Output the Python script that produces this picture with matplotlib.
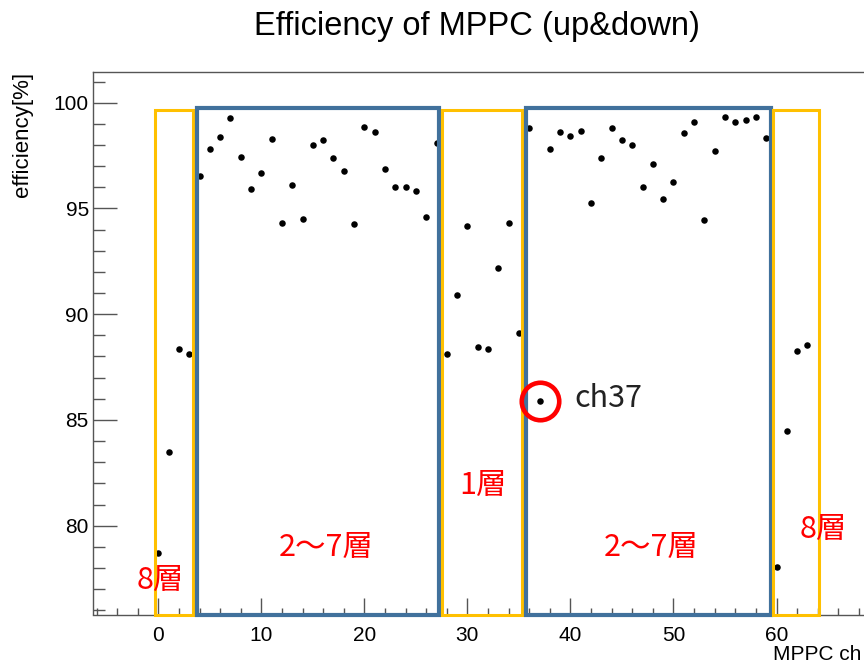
import matplotlib
matplotlib.use("Agg")
import matplotlib.pyplot as plt
from matplotlib.patches import Rectangle
from matplotlib.ticker import MultipleLocator

plt.rcParams['font.family'] = ['Liberation Sans', 'Noto Sans CJK JP', 'DejaVu Sans']

# efficiency per MPPC channel (up&down coincidence)
channels = list(range(64))
efficiency = [
    78.73, 83.49, 88.33, 88.10, 96.54, 97.79, 98.39, 99.27,
    97.43, 95.92, 96.68, 98.28, 94.33, 96.10, 94.52, 98.01,
    98.23, 97.39, 96.76, 94.25, 98.83, 98.61, 96.87, 95.99,
    96.02, 95.80, 94.60, 98.09, 88.10, 90.90, 94.19, 88.44,
    88.33, 92.20, 94.33, 89.13, 98.80, 85.89, 97.80, 98.61,
    98.42, 98.67, 95.25, 97.39, 98.78, 98.23, 98.01, 95.99,
    97.09, 95.44, 96.24, 98.56, 99.08, 94.47, 97.73, 99.31,
    99.08, 99.16, 99.31, 98.34, 78.03, 84.46, 88.28, 88.53,
]

# layer groups of channels
layer_names = ["8層", "2～7層", "1層", "2～7層", "8層"]
layer_first = [0, 4, 28, 36, 60]
layer_last = [3, 27, 35, 59, 63]
bad_channel = 37

# box edges / label spots for each group
box_x = [(-0.32, 3.37), (3.71, 27.25), (27.5, 35.33), (35.66, 59.5), (59.69, 64.13)]
box_top = [99.65, 99.73, 99.65, 99.73, 99.65]
box_color = ["#FFC000", "#41719C", "#FFC000", "#41719C", "#FFC000"]
box_lw = [2.2, 3.0, 2.2, 3.0, 2.2]
label_xy = [(0.17, 77.43), (16.3, 78.95), (31.47, 81.92), (47.87, 78.95), (64.56, 79.8)]

W, H = 864, 668
fig = plt.figure(figsize=(W / 100, H / 100), dpi=100)
ax = fig.add_axes([93 / W, 1 - 614.5 / H, (877.5 - 93) / W, (614.5 - 72) / H])

ymin, ymax = 75.8, 101.45
ax.set_xlim(-6.34, 69.8)
ax.set_ylim(ymin, ymax)

ax.scatter(channels, efficiency, s=22, color='black', zorder=3, linewidths=0)

for (x0, x1), top, c, lw in zip(box_x, box_top, box_color, box_lw):
    ax.add_patch(Rectangle((x0, ymin), x1 - x0, top - ymin, fill=False,
                           edgecolor=c, linewidth=lw, clip_on=False, zorder=4))

for name, (lx, ly) in zip(layer_names, label_xy):
    ax.text(lx, ly, name, color='#FF0000', fontsize=22, ha='center', va='center',
            family=['Noto Sans CJK JP', 'DejaVu Sans'], zorder=5)

# mark the low channel
ax.plot(bad_channel, efficiency[bad_channel], 'o', ms=27, mfc='none',
        mec='#FF0000', mew=3.3, zorder=5, clip_on=False)
ax.text(bad_channel + 3.4, efficiency[bad_channel] + 0.12, "ch%d" % bad_channel,
        fontsize=22, ha='left', va='center', color='#222222',
        family=['Noto Sans CJK JP', 'DejaVu Sans'])

ax.xaxis.set_major_locator(MultipleLocator(10))
ax.xaxis.set_minor_locator(MultipleLocator(2))
ax.yaxis.set_major_locator(MultipleLocator(5))
ax.yaxis.set_minor_locator(MultipleLocator(1))
ax.tick_params(axis='both', which='both', direction='in', color='#555555', width=1.0,
               labelsize=15, top=False, right=False)
ax.tick_params(axis='x', which='major', length=12, pad=8)
ax.tick_params(axis='x', which='minor', length=5)
ax.tick_params(axis='y', which='major', length=17, pad=3)
ax.tick_params(axis='y', which='minor', length=8.6)
for sp in ax.spines.values():
    sp.set_color('#555555')
    sp.set_linewidth(1.0)

fig.text(477 / W, 1 - 27 / H, "Efficiency of MPPC (up&down)", fontsize=23.5,
         ha='center', va='center')
fig.text(23 / W, 1 - 72 / H, "efficiency[%]", fontsize=16, rotation=90,
         ha='center', va='top')
fig.text(861 / W, 1 - 655 / H, "MPPC ch", fontsize=15, ha='right', va='center')

fig.savefig("out.png", dpi=100)
